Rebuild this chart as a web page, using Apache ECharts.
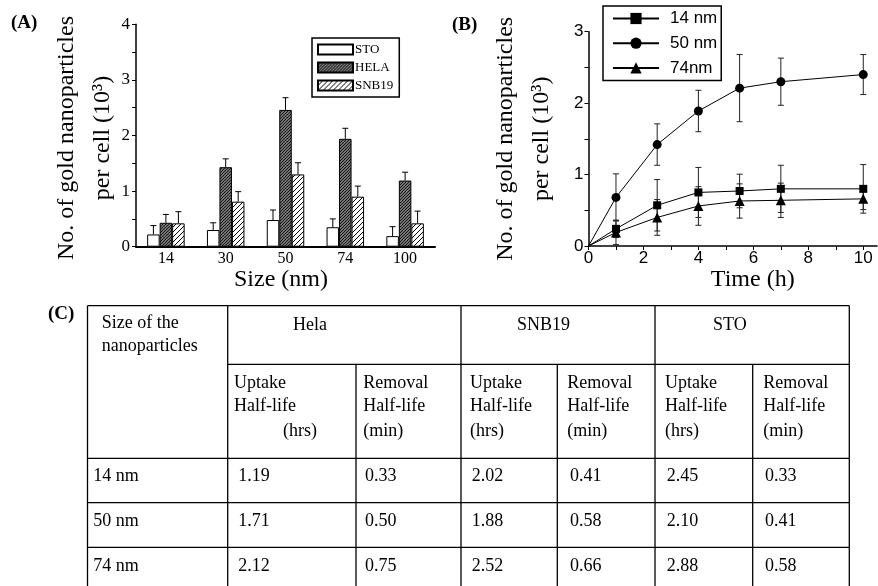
<!DOCTYPE html>
<html><head><meta charset="utf-8">
<script src="https://cdn.jsdelivr.net/npm/echarts@6/dist/echarts.min.js"></script>
<style>html,body{margin:0;padding:0;background:#fff}#c{width:878px;height:586px}</style>
</head><body><div id="c"></div>
<script>
// ---------- Panel A data ----------
const sizes = ['14', '30', '50', '74', '100'];
const stoVals  = [0.22, 0.30, 0.48, 0.35, 0.19];
const stoErr   = [0.16, 0.13, 0.18, 0.15, 0.17];
const helaVals = [0.43, 1.43, 2.46, 1.94, 1.19];
const helaErr  = [0.15, 0.15, 0.22, 0.19, 0.15];
const snbVals  = [0.42, 0.81, 1.30, 0.90, 0.42];
const snbErr   = [0.21, 0.18, 0.21, 0.19, 0.22];
const aTickValues  = [0, 0.5, 1, 1.5, 2, 2.5, 3, 3.5, 4];
const aLabelValues = [0, 1, 2, 3, 4];
const yTitle = 'No. of gold nanoparticles\nper cell (10³)';

// ---------- Panel B data ----------
const times   = [0, 1, 2.5, 4, 5.5, 7, 10];
const nm14    = [0, 0.24, 0.57, 0.75, 0.77, 0.80, 0.80];
const nm14Err = [0, 0.12, 0.36, 0.35, 0.235, 0.33, 0.34];
const nm50    = [0, 0.68, 1.42, 1.89, 2.21, 2.30, 2.40];
const nm50Err = [0, 0.33, 0.29, 0.29, 0.47, 0.33, 0.28];
const nm74    = [0, 0.19, 0.40, 0.56, 0.63, 0.64, 0.66];
const nm74Err = [0, 0.17, 0.25, 0.27, 0.24, 0.24, 0.15];
const bXTicks  = [0, 1, 2, 3, 4, 5, 6, 7, 8, 9, 10];
const bXLabels = [0, 2, 4, 6, 8, 10];
const bYTicks  = [0, 0.5, 1, 1.5, 2, 2.5, 3];
const bYLabels = [0, 1, 2, 3];

// ---------- Panel C table data ----------
const tableSizeHeader = ['Size of the', 'nanoparticles'];
const cellLines = ['Hela', 'SNB19', 'STO'];
const uptakeHeader = ['Uptake', 'Half-life', '(hrs)'];
const removalHeader = ['Removal', 'Half-life', '(min)'];
const tableSizes = ['14 nm', '50 nm', '74 nm'];
const helaUptake = ['1.19', '1.71', '2.12'];
const helaRemoval = ['0.33', '0.50', '0.75'];
const snbUptake = ['2.02', '1.88', '2.52'];
const snbRemoval = ['0.41', '0.58', '0.66'];
const stoUptake = ['2.45', '2.10', '2.88'];
const stoRemoval = ['0.33', '0.41', '0.58'];

const SERIF = '"Liberation Serif", "Times New Roman", serif';
const SANS = '"Liberation Sans", Arial, sans-serif';
const BAR_W = 12.5;

function hatch(size, bg, fg, lw) {
  const c = document.createElement('canvas');
  c.width = c.height = size;
  const g = c.getContext('2d');
  g.fillStyle = bg; g.fillRect(0, 0, size, size);
  g.strokeStyle = fg; g.lineWidth = lw;
  g.beginPath();
  g.moveTo(0, size); g.lineTo(size, 0);
  g.moveTo(-1, 1); g.lineTo(1, -1);
  g.moveTo(size - 1, size + 1); g.lineTo(size + 1, size - 1);
  g.stroke();
  return c;
}
const helaPattern = { image: hatch(3, '#9a9a9a', '#111', 1.1), repeat: 'repeat' };
const snbPattern = { image: hatch(5, '#ffffff', '#000', 1), repeat: 'repeat' };

// error bar data
const errA = [];
[[stoVals, stoErr], [helaVals, helaErr], [snbVals, snbErr]].forEach(([v, e], k) => {
  v.forEach((val, i) => errA.push([i, val, e[i], k]));
});
const errB = [];
[[nm14, nm14Err], [nm50, nm50Err], [nm74, nm74Err]].forEach(([v, e]) => {
  v.forEach((val, i) => { if (e[i] > 0) errB.push([times[i], val, e[i]]); });
});

const chart = echarts.init(document.getElementById('c'), null, { renderer: 'canvas' });

// table layout
const colX = [87.5, 227.7, 356, 461, 557.3, 655, 752.7, 849.3];
const rowY = [305.7, 364.3, 458.3, 502.7, 547.3, 594];
const LW = 1.3;
const graphic = [];
function L(x1, y1, x2, y2) {
  graphic.push({ type: 'line', silent: true, shape: { x1, y1, x2, y2 }, style: { stroke: '#000', lineWidth: LW } });
}
function T(text, x, y, font) {
  graphic.push({ type: 'text', silent: true, x, y, style: { text, font: font || ('18px ' + SERIF), fill: '#000', verticalAlign: 'middle', align: 'left' } });
}
// borders
L(colX[0], rowY[0], colX[7], rowY[0]);
L(colX[1], rowY[1], colX[7], rowY[1]);
[2, 3, 4].forEach(r => L(colX[0], rowY[r], colX[7], rowY[r]));
[0, 1, 3, 5, 7].forEach(c => L(colX[c], rowY[0], colX[c], rowY[5]));
[2, 4, 6].forEach(c => L(colX[c], rowY[1], colX[c], rowY[5]));
// header texts
T(tableSizeHeader[0], 101.7, 323);
T(tableSizeHeader[1], 101.7, 346.7);
const cellX = [293, 517, 713];
cellLines.forEach((t, i) => T(t, cellX[i], 325));
const subX = [234, 363.3, 470, 567.3, 665, 763.3];
const subY = [383.3, 406.7, 431.7];
subX.forEach((x, c) => {
  const hdr = c % 2 === 0 ? uptakeHeader : removalHeader;
  hdr.forEach((t, j) => T(t, (c === 0 && j === 2) ? 283 : x, subY[j]));
});
const dataRowY = [476.7, 521.7, 566.7];
const valX = [238.3, 365, 471.7, 570, 666.7, 765];
const cols = [helaUptake, helaRemoval, snbUptake, snbRemoval, stoUptake, stoRemoval];
tableSizes.forEach((s, r) => {
  T(s, 93.3, dataRowY[r]);
  cols.forEach((col, c) => T(col[r], valX[c], dataRowY[r]));
});
// panel labels
T('(A)', 11, 23, 'bold 19px ' + SERIF);
T('(B)', 452, 25, 'bold 19px ' + SERIF);
T('(C)', 48, 314, 'bold 19px ' + SERIF);
// panel A y-axis title
graphic.push({ type: 'text', silent: true, x: 85, y: 138, rotation: Math.PI / 2,
  style: { text: yTitle, font: '24px ' + SERIF, lineHeight: 36, fill: '#000', align: 'center', verticalAlign: 'middle' } });

const option = {
  animation: false,
  backgroundColor: '#fff',
  graphic,
  grid: [
    { left: 136, top: 24.3, width: 299, height: 222.4 },
    { left: 588.5, top: 31.7, width: 288.5, height: 214.3 }
  ],
  legend: [
    {
      data: ['STO', 'HELA', 'SNB19'], orient: 'vertical', left: 312, top: 38,
      icon: 'rect', itemWidth: 35, itemHeight: 10, itemGap: 5, selectedMode: false,
      borderColor: '#000', borderWidth: 1.5, padding: [5, 6, 5, 5],
      textStyle: { fontFamily: SERIF, fontSize: 13, color: '#000', padding: [0, 0, 0, -3] }
    },
    {
      data: ['14 nm', '50 nm', '74nm'], orient: 'vertical', left: 603, top: 6,
      itemWidth: 46, itemHeight: 14, itemGap: 7.7, selectedMode: false,
      borderColor: '#000', borderWidth: 1.5, padding: [4, 4, 4, 9],
      textStyle: { fontFamily: SANS, fontSize: 17, color: '#000', padding: [0, 0, 0, 6] }
    }
  ],
  xAxis: [
    {
      gridIndex: 0, type: 'category', data: sizes,
      axisLine: { show: true, lineStyle: { color: '#000', width: 2 } },
      axisTick: { show: false },
      axisLabel: { fontFamily: SERIF, fontSize: 16, color: '#000', margin: 4 },
      name: 'Size (nm)', nameLocation: 'middle', nameGap: 21,
      nameTextStyle: { fontFamily: SERIF, fontSize: 24, color: '#000', padding: [0, 9, 0, 0] }
    },
    {
      gridIndex: 1, type: 'value', min: 0, max: 10.5,
      axisLine: { show: true, lineStyle: { color: '#000', width: 1.5 } },
      axisTick: { show: true, inside: false, length: 4, customValues: bXTicks, lineStyle: { color: '#000' } },
      axisLabel: { fontFamily: SANS, fontSize: 17, color: '#000', margin: 4, customValues: bXLabels },
      splitLine: { show: false },
      name: 'Time (h)', nameLocation: 'middle', nameGap: 22,
      nameTextStyle: { fontFamily: SERIF, fontSize: 24, color: '#000', padding: [0, 0, 0, 40] }
    }
  ],
  yAxis: [
    {
      gridIndex: 0, type: 'value', min: 0, max: 4,
      axisLine: { show: true, lineStyle: { color: '#000', width: 1.5 } },
      axisTick: { show: true, inside: false, length: 4, customValues: aTickValues, lineStyle: { color: '#000' } },
      axisLabel: { fontFamily: SERIF, fontSize: 17, color: '#000', margin: 6, customValues: aLabelValues },
      splitLine: { show: false }
    },
    {
      gridIndex: 1, type: 'value', min: 0, max: 3,
      axisLine: { show: true, lineStyle: { color: '#000', width: 1.5 } },
      axisTick: { show: true, inside: false, length: 4, customValues: bYTicks, lineStyle: { color: '#000' } },
      axisLabel: { fontFamily: SANS, fontSize: 17, color: '#000', margin: 5, customValues: bYLabels },
      splitLine: { show: false },
      name: yTitle, nameLocation: 'middle', nameGap: 28,
      nameTextStyle: { fontFamily: SERIF, fontSize: 24, lineHeight: 36.7, color: '#000' }
    }
  ],
  series: [
    { type: 'bar', name: 'STO', xAxisIndex: 0, yAxisIndex: 0, data: stoVals, barWidth: BAR_W, barGap: '0%',
      itemStyle: { color: '#fff', borderColor: '#000', borderWidth: 1 } },
    { type: 'bar', name: 'HELA', xAxisIndex: 0, yAxisIndex: 0, data: helaVals, barWidth: BAR_W, barGap: '0%',
      itemStyle: { color: helaPattern, borderColor: '#000', borderWidth: 1 } },
    { type: 'bar', name: 'SNB19', xAxisIndex: 0, yAxisIndex: 0, data: snbVals, barWidth: BAR_W, barGap: '0%',
      itemStyle: { color: snbPattern, borderColor: '#000', borderWidth: 1 } },
    {
      type: 'custom', name: 'errA', xAxisIndex: 0, yAxisIndex: 0, data: errA, encode: { x: 0, y: 1 }, z: 3,
      renderItem(params, api) {
        const c = api.coord([api.value(0), api.value(1)]);
        const t = api.coord([api.value(0), api.value(1) + api.value(2)]);
        const x = c[0] + (api.value(3) - 1) * BAR_W;
        const st = { stroke: '#000', lineWidth: 1 };
        return { type: 'group', children: [
          { type: 'line', shape: { x1: x, y1: c[1], x2: x, y2: t[1] }, style: st },
          { type: 'line', shape: { x1: x - 3, y1: t[1], x2: x + 3, y2: t[1] }, style: st }
        ] };
      }
    },
    {
      type: 'custom', name: 'errB', xAxisIndex: 1, yAxisIndex: 1, data: errB, encode: { x: 0, y: 1 }, z: 1, clip: false,
      renderItem(params, api) {
        const lo = api.coord([api.value(0), api.value(1) - api.value(2)]);
        const hi = api.coord([api.value(0), api.value(1) + api.value(2)]);
        const x = lo[0];
        const st = { stroke: '#222', lineWidth: 1 };
        return { type: 'group', children: [
          { type: 'line', shape: { x1: x, y1: lo[1], x2: x, y2: hi[1] }, style: st },
          { type: 'line', shape: { x1: x - 3, y1: hi[1], x2: x + 3, y2: hi[1] }, style: st },
          { type: 'line', shape: { x1: x - 3, y1: lo[1], x2: x + 3, y2: lo[1] }, style: st }
        ] };
      }
    },
    { type: 'line', name: '14 nm', xAxisIndex: 1, yAxisIndex: 1, data: times.map((t, i) => [t, nm14[i]]),
      symbol: 'rect', symbolSize: (v, p) => p.dataIndex === 0 ? 0 : 8, z: 3,
      lineStyle: { color: '#000', width: 1 }, itemStyle: { color: '#000' } },
    { type: 'line', name: '50 nm', xAxisIndex: 1, yAxisIndex: 1, data: times.map((t, i) => [t, nm50[i]]),
      symbol: 'circle', symbolSize: (v, p) => p.dataIndex === 0 ? 0 : 9, z: 3,
      lineStyle: { color: '#000', width: 1 }, itemStyle: { color: '#000' } },
    { type: 'line', name: '74nm', xAxisIndex: 1, yAxisIndex: 1, data: times.map((t, i) => [t, nm74[i]]),
      symbol: 'triangle', symbolSize: (v, p) => p.dataIndex === 0 ? 0 : 10, z: 3,
      lineStyle: { color: '#000', width: 1 }, itemStyle: { color: '#000' } }
  ]
};
chart.setOption(option);
</script></body></html>
